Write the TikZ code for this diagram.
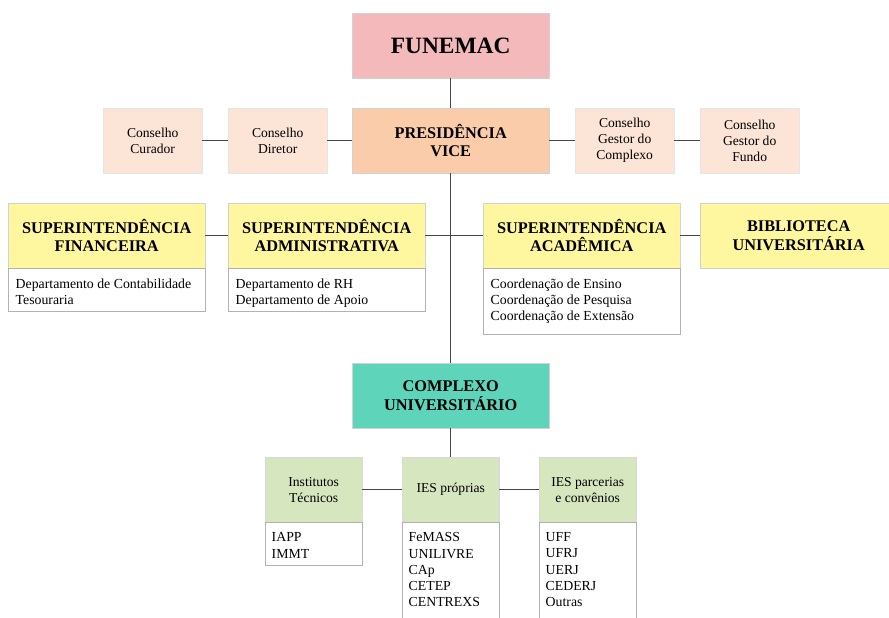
\documentclass[tikz,border=0pt]{standalone}
\usepackage{fontspec}
\setmainfont{Liberation Serif}
\usetikzlibrary{positioning}
\definecolor{linha}{RGB}{70,70,70}
\definecolor{funemacrosa}{RGB}{243,185,187}
\definecolor{presidencia}{RGB}{250,204,170}
\definecolor{conselho}{RGB}{252,229,214}
\definecolor{superamarelo}{RGB}{255,246,160}
\definecolor{complexo}{RGB}{94,213,186}
\definecolor{iesverde}{RGB}{214,230,190}

\newcommand{\listabox}[3]{\parbox[c][#1][t]{#2}{\fontsize{13.8}{16.3}\selectfont\vspace*{10pt}#3}}

\begin{document}
\begin{tikzpicture}[x=1pt,y=-1pt,
    caixa/.style={draw=gray!35, anchor=north west, minimum width=197pt, minimum height=65pt, inner sep=0pt, align=center, font=\bfseries\fontsize{16.3}{18.5}\selectfont},
    conselhobox/.style={draw=gray!20, fill=conselho, anchor=north west, minimum width=99pt, minimum height=65pt, inner sep=0pt, align=center, font=\fontsize{13.6}{16}\selectfont},
    iesbox/.style={draw=gray!30, fill=iesverde, anchor=north west, minimum width=97pt, minimum height=65pt, inner sep=0pt, align=center, font=\fontsize{13.6}{16}\selectfont},
    lista/.style={draw=gray!60, fill=white, anchor=north west, inner xsep=7.5pt, inner ysep=0pt},
    liga/.style={draw=linha, line width=1.1pt}]

    \useasboundingbox (0,0) rectangle (889,618);

    % topo
    \node[caixa, fill=funemacrosa, font=\bfseries\fontsize{23.4}{26}\selectfont] (funemac) at (352,13) {FUNEMAC};
    \node[caixa, fill=presidencia] (pres) at (352,108) {PRESIDÊNCIA\\VICE};

    % conselhos
    \node[conselhobox] (curador) at (103,108) {Conselho\\Curador};
    \node[conselhobox] (diretor) at (228,108) {Conselho\\Diretor};
    \node[conselhobox] (gcomplexo) at (575,108) {Conselho\\Gestor do\\Complexo};
    \node[conselhobox] (gfundo) at (700,108) {Conselho\\Gestor do\\Fundo};

    % superintendencias
    \node[caixa, fill=superamarelo] (sfin) at (8,203) {SUPERINTENDÊNCIA\\FINANCEIRA};
    \node[caixa, fill=superamarelo] (sadm) at (228,203) {SUPERINTENDÊNCIA\\ADMINISTRATIVA};
    \node[caixa, fill=superamarelo] (sacad) at (483,203) {SUPERINTENDÊNCIA\\ACADÊMICA};
    \node[caixa, fill=superamarelo] (biblio) at (700,203) {BIBLIOTECA\\UNIVERSITÁRIA};

    \node[lista] (finlista) at (sfin.south west) {\listabox{43pt}{182pt}{Departamento de Contabilidade\\Tesouraria}};
    \node[lista] (admlista) at (sadm.south west) {\listabox{43pt}{182pt}{Departamento de RH\\Departamento de Apoio}};
    \node[lista] (acadlista) at (sacad.south west) {\listabox{66pt}{182pt}{Coordenação de Ensino\\Coordenação de Pesquisa\\Coordenação de Extensão}};

    % complexo
    \node[caixa, fill=complexo] (compl) at (352,363) {COMPLEXO\\UNIVERSITÁRIO};

    \node[iesbox] (inst) at (265,457) {Institutos\\Técnicos};
    \node[iesbox] (iesp) at (402,457) {IES próprias};
    \node[iesbox] (iesparc) at (539,457) {IES parcerias\\e convênios};

    \node[lista, inner xsep=6.5pt] (instlista) at (inst.south west) {\listabox{43pt}{84pt}{IAPP\\IMMT}};
    \node[lista, inner xsep=6.5pt] (iesplista) at (iesp.south west) {\listabox{110pt}{84pt}{FeMASS\\UNILIVRE\\CAp\\CETEP\\CENTREXS}};
    \node[lista, inner xsep=6.5pt] (parclista) at (iesparc.south west) {\listabox{110pt}{84pt}{UFF\\UFRJ\\UERJ\\CEDERJ\\Outras}};

    % ligacoes
    \draw[liga] (funemac) -- (pres);
    \draw[liga] (pres) -- (compl);
    \draw[liga] (curador) -- (diretor);
    \draw[liga] (diretor) -- (pres);
    \draw[liga] (pres) -- (gcomplexo);
    \draw[liga] (gcomplexo) -- (gfundo);
    \draw[liga] (sfin) -- (sadm);
    \draw[liga] (sadm) -- (sacad);
    \draw[liga] (sacad) -- (biblio);
    \draw[liga] (compl) -- (iesp);
    \draw[liga] (inst) -- (iesp);
    \draw[liga] (iesp) -- (iesparc);

\end{tikzpicture}
\end{document}
